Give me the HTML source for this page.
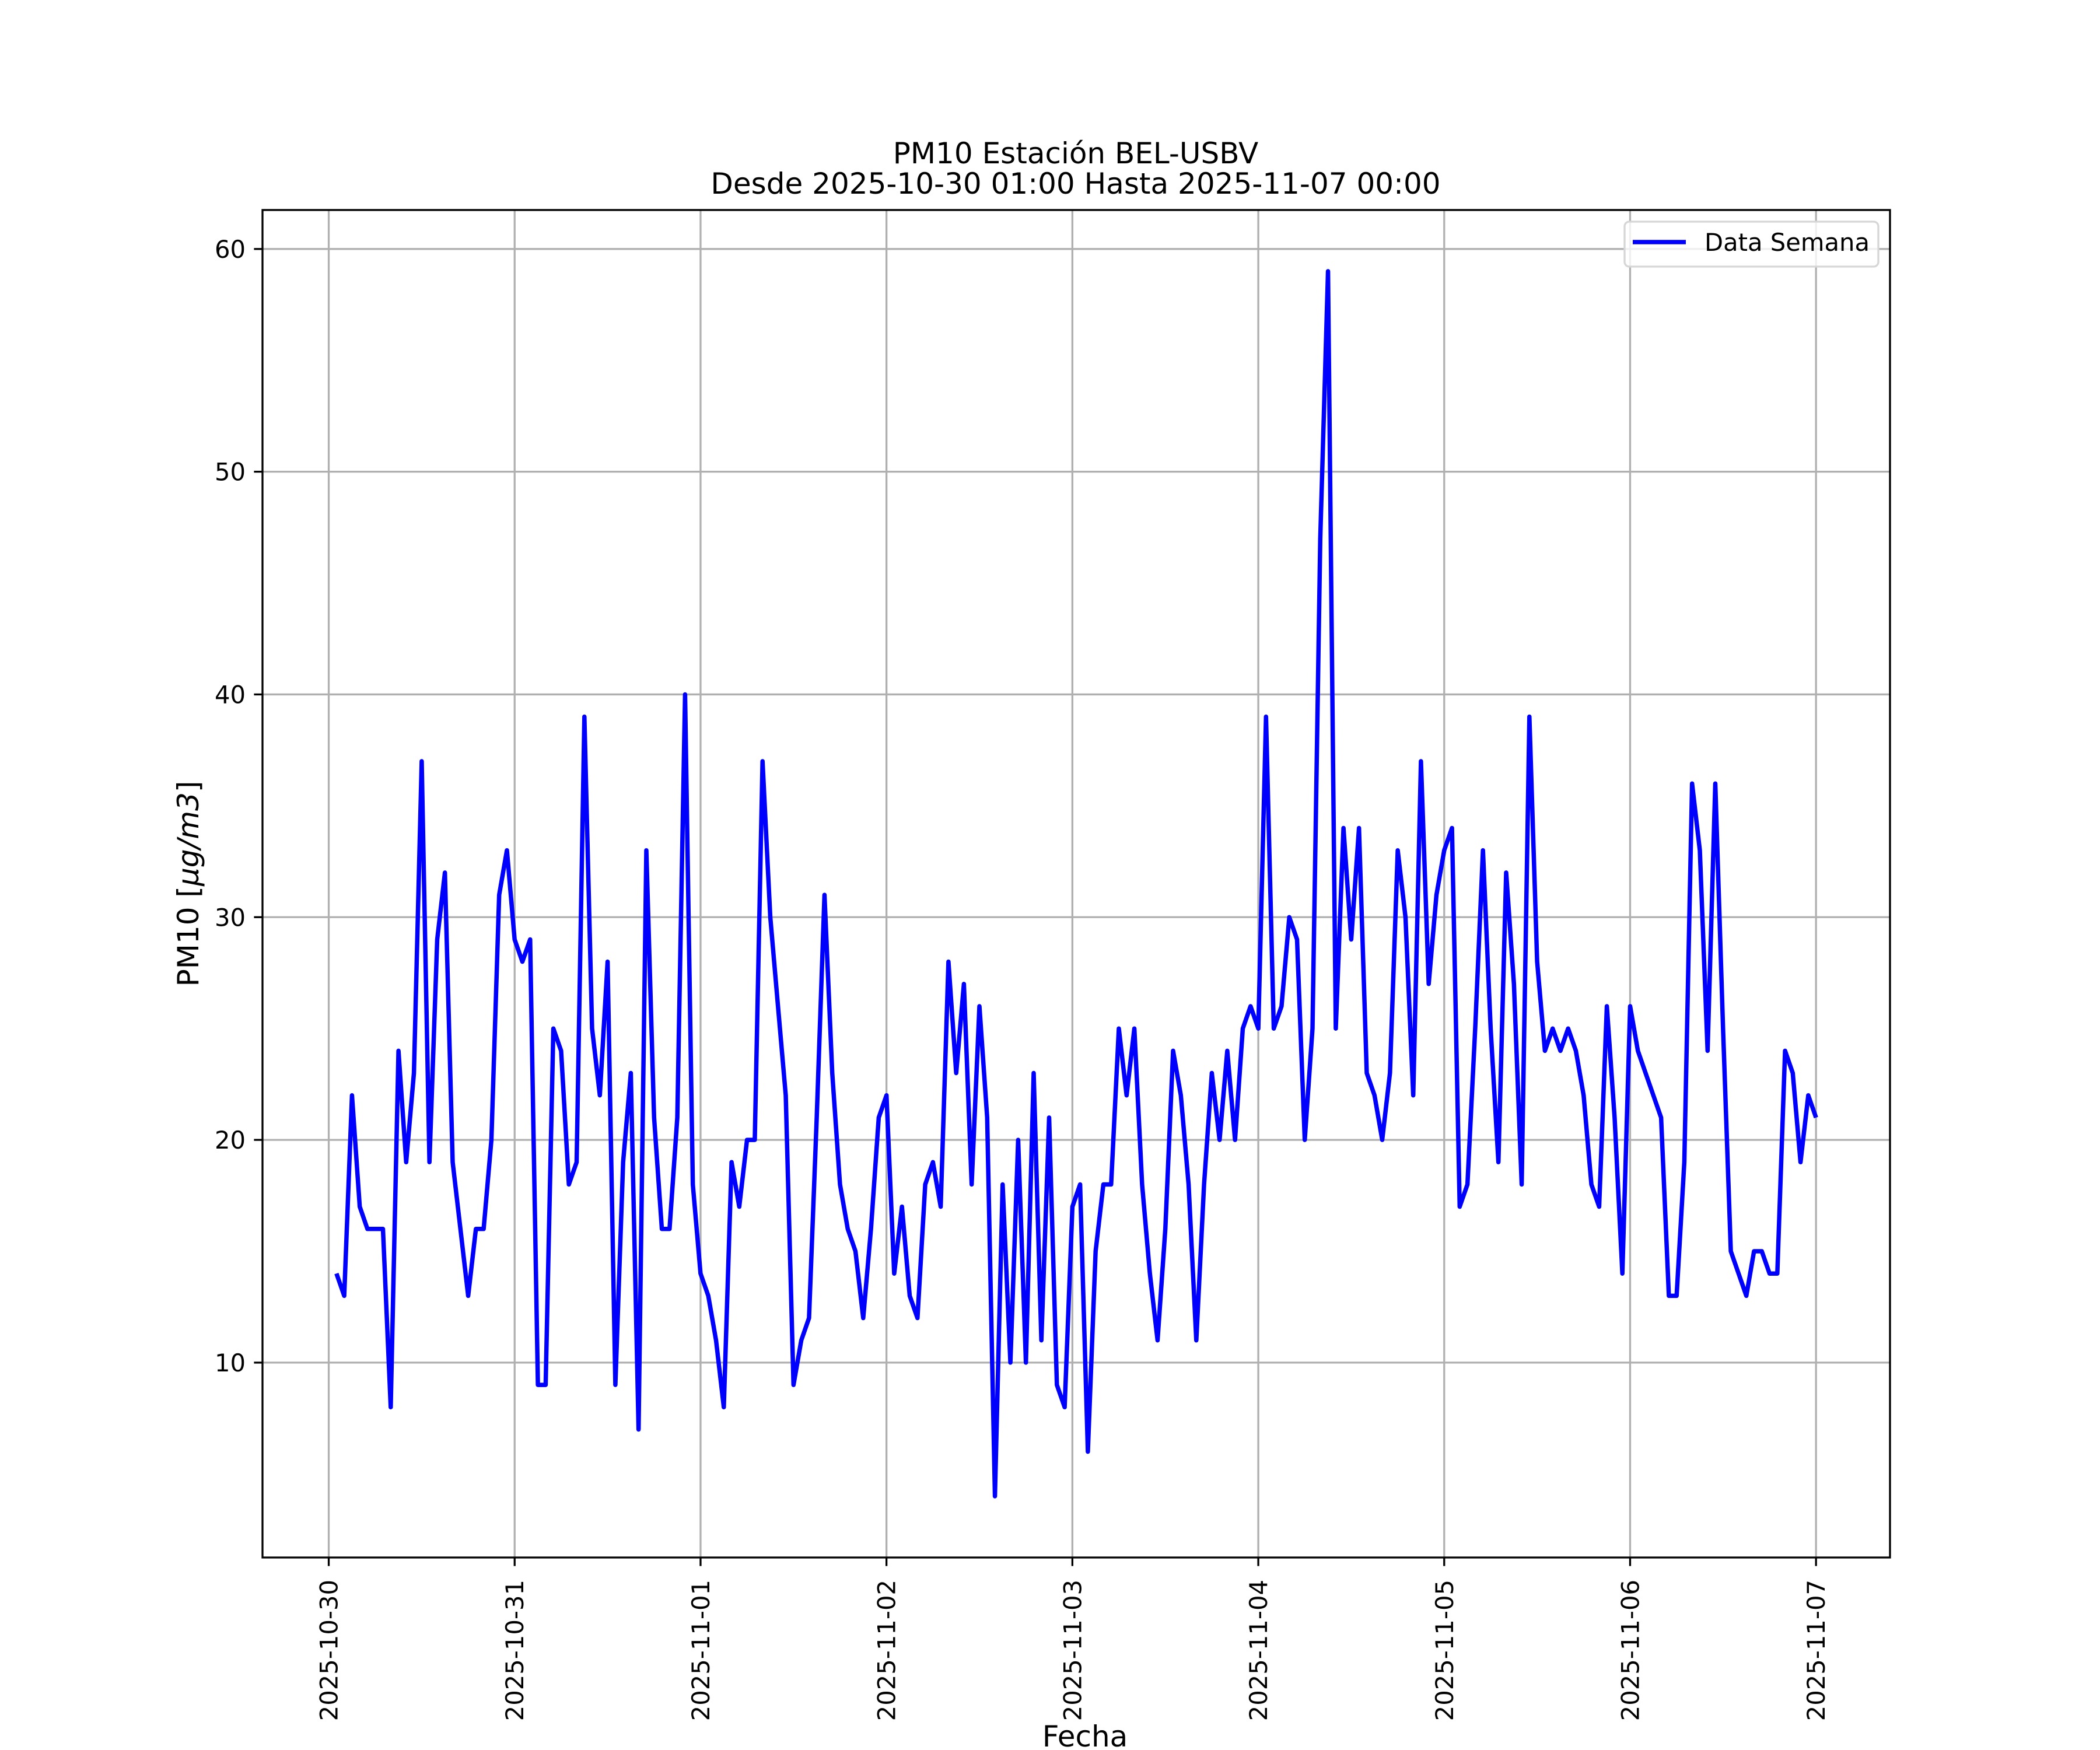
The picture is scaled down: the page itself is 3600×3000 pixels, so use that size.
<!DOCTYPE html>
<html><head><meta charset="utf-8"><style>
html,body{margin:0;padding:0;background:#fff;}
svg{display:block;}
text{font-family:"DejaVu Sans","Liberation Sans",sans-serif;}
</style></head><body>
<svg id="chart" width="3600" height="3000" viewBox="0 0 3600 3000" xmlns="http://www.w3.org/2000/svg">
<rect x="0" y="0" width="3600" height="3000" fill="#fff"/>
<g id="grid"></g>
<g id="series"></g>
<rect x="450" y="360" width="2790" height="2310" fill="none" stroke="#000" stroke-width="3.3"/>
<g id="ticks"></g>
<text x="1844" y="280" text-anchor="middle" font-size="50">PM10 Estación BEL-USBV</text>
<text x="1844" y="332" text-anchor="middle" font-size="50">Desde 2025-10-30 01:00 Hasta 2025-11-07 00:00</text>
<text x="1860" y="2994" text-anchor="middle" font-size="50">Fecha</text>
<text transform="translate(340,1515) rotate(-90)" text-anchor="middle" font-size="50">PM10 [<tspan font-style="italic">μg/m3</tspan>]</text>
<g>
<rect x="2785" y="380" width="435" height="77" rx="8" fill="#fff" fill-opacity="0.8" stroke="#d6d6d6" stroke-width="3.3"/>
<line x1="2799" y1="415" x2="2890" y2="415" stroke="#0000ff" stroke-width="7.5"/>
<text x="2922" y="430" font-size="41.7">Data Semana</text>
</g>
</svg>
<script>
const startHour = 1;
const values = [14,13,22,17,16,16,16,8,24,19,23,37,19,29,32,19,16,13,16,16,20,31,33,29,28,29,9,9,25,24,18,19,39,25,22,28,9,19,23,7,33,21,16,16,21,40,18,14,13,
11,8,19,17,20,20,37,30,26,22,9,11,12,21,31,23,18,16,15,12,16,21,22,14,17,13,12,18,19,17,28,23,27,18,26,21,4,18,10,20,10,23,11,21,9,8,17,18,
6,15,18,18,25,22,25,18,14,11,16,24,22,18,11,18,23,20,24,20,25,26,25,39,25,26,30,29,20,25,47,59,25,34,29,34,23,22,20,23,33,30,22,37,27,31,33,34,
17,18,25,33,25,19,32,27,18,39,28,24,25,24,25,24,22,18,17,26,21,14,26,24,23,22,21,13,13,19,36,33,24,36,25,15,14,13,15,15,14,14,24,23,19,22,21];
const xTickLabels = ["2025-10-30","2025-10-31","2025-11-01","2025-11-02","2025-11-03","2025-11-04","2025-11-05","2025-11-06","2025-11-07"];
const yTickValues = [10,20,30,40,50,60];

const NS="http://www.w3.org/2000/svg";
const L=450,R=3240,T=360,B=2670;
const hours=values.map((v,i)=>startHour+i);
const hMin=Math.min(...hours),hMax=Math.max(...hours);
const hPad=(hMax-hMin)*0.05;
const x0=hMin-hPad,x1=hMax+hPad;
const vMin=Math.min(...values),vMax=Math.max(...values);
const vPad=(vMax-vMin)*0.05;
const y0=vMin-vPad,y1=vMax+vPad;
function xs(h){return L+(h-x0)/(x1-x0)*(R-L);}
function ys(v){return B-(v-y0)/(y1-y0)*(B-T);}
function mk(tag,attrs,parent){const e=document.createElementNS(NS,tag);for(const k in attrs)e.setAttribute(k,attrs[k]);parent.appendChild(e);return e;}
const grid=document.getElementById('grid'),ticks=document.getElementById('ticks'),series=document.getElementById('series');
xTickLabels.forEach((lab,i)=>{
  const x=xs(i*24);
  const g=mk('line',{x1:x,y1:T,x2:x,y2:B,stroke:'#b0b0b0','stroke-width':3.3},grid);
  
  
  const t=mk('line',{x1:x,y1:B,x2:x,y2:B+14.6,stroke:'#000','stroke-width':3.3},ticks);
  
  
  const tx=mk('text',{transform:`translate(${x+15},${B+38}) rotate(-90)`,'text-anchor':'end','font-size':41.7},ticks);
  tx.textContent=lab;
  
  
});
yTickValues.forEach(v=>{
  const y=ys(v);
  const g=mk('line',{x1:L,y1:y,x2:R,y2:y,stroke:'#b0b0b0','stroke-width':3.3},grid);
  
  
  const t=mk('line',{x1:L-14.6,y1:y,x2:L,y2:y,stroke:'#000','stroke-width':3.3},ticks);
  
  
  const tx=mk('text',{x:L-29,y:y+15,'text-anchor':'end','font-size':41.7},ticks);
  tx.textContent=String(v);
  
  
});
const pts=values.map((v,i)=>xs(hours[i]).toFixed(1)+','+ys(v).toFixed(1)).join(' ');
const pl=mk('polyline',{points:pts,fill:'none',stroke:'#0000ff','stroke-width':7.5,'stroke-linejoin':'round'},series);


</script>
</body></html>
